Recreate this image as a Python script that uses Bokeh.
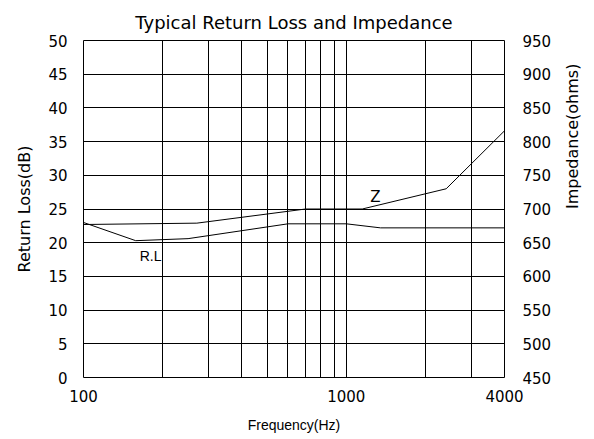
import math
from bokeh.plotting import figure
from bokeh.models import Range1d, LinearAxis, FixedTicker, Label
from bokeh.embed import file_html
from bokeh.resources import INLINE

# ---- data ----
z_freq = [100, 270, 700, 1150, 2400, 4000]
z_ohms = [677, 679, 700, 700, 730, 816]

rl_freq = [100, 158, 250, 600, 1000, 1350, 4000]
rl_db = [23.0, 20.3, 20.6, 22.8, 22.8, 22.2, 22.2]

x_grid = [100, 200, 300, 400, 500, 600, 700, 800, 900, 1000, 2000, 3000, 4000]
x_ticks = [100, 1000, 4000]
x_tick_labels = ["100", "1000", "4000"]
left_ticks = [0, 5, 10, 15, 20, 25, 30, 35, 40, 45, 50]
right_ticks = [450, 500, 550, 600, 650, 700, 750, 800, 850, 900, 950]

CAD = "DejaVu Sans"

p = figure(frame_width=421, frame_height=337, x_axis_type="log",
           x_range=Range1d(100, 4000), y_range=Range1d(0, 50),
           output_backend="svg", toolbar_location=None,
           min_border_left=83, min_border_right=0,
           min_border_top=40, min_border_bottom=58)

p.extra_y_ranges = {"z": Range1d(450, 950)}

p.title.text = "Typical Return Loss and Impedance"
p.title.align = "center"
p.title.standoff = 15
p.title.text_font = CAD
p.title.text_font_size = "18px"
p.title.text_font_style = "normal"
p.title.text_color = "black"

p.outline_line_color = "black"
p.outline_line_width = 1
p.outline_line_alpha = 1

# grids
p.xgrid.ticker = FixedTicker(ticks=x_grid)
p.ygrid.ticker = FixedTicker(ticks=left_ticks)
for g in (p.xgrid, p.ygrid):
    g.grid_line_color = "black"
    g.grid_line_width = 1
    g.grid_line_alpha = 1

# x axis
xa = p.xaxis[0]
xa.ticker = FixedTicker(ticks=x_ticks)
xa.major_label_overrides = {t: s for t, s in zip(x_ticks, x_tick_labels)}
xa.axis_label = "Frequency(Hz)"
xa.axis_label_text_font = "Liberation Sans"
xa.axis_label_text_font_size = "14px"
xa.axis_label_text_font_style = "normal"

# left axis
ya = p.yaxis[0]
ya.ticker = FixedTicker(ticks=left_ticks)
ya.axis_label = "Return Loss(dB)"

# right axis
ra = LinearAxis(y_range_name="z", ticker=FixedTicker(ticks=right_ticks),
                axis_label="Impedance(ohms)")
p.add_layout(ra, "right")

for ax in (xa, ya, ra):
    ax.axis_line_color = None
    ax.major_tick_line_color = None
    ax.minor_tick_line_color = None
    ax.major_tick_out = 0
    ax.major_tick_in = 0
    ax.minor_tick_out = 0
    ax.minor_tick_in = 0
    ax.major_label_text_font = CAD
    ax.major_label_text_font_size = "15px"
    ax.major_label_text_color = "black"
    ax.axis_label_text_color = "black"

xa.major_label_standoff = 12
xa.axis_label_standoff = 12
ya.major_label_standoff = 16
ra.major_label_standoff = 18
for ax in (ya, ra):
    ax.axis_label_text_font = CAD
    ax.axis_label_text_font_size = "16px"
    ax.axis_label_text_font_style = "normal"
ya.axis_label_standoff = 11
ra.axis_label_standoff = 18
ra.axis_label_orientation = math.pi / 2

# data lines
p.line(rl_freq, rl_db, line_color="black", line_width=1)
p.line(z_freq, z_ohms, line_color="black", line_width=1, y_range_name="z")

p.add_layout(Label(x=180, y=18.0, text="R.L", text_font="Liberation Sans",
                   text_font_size="14px", text_align="center",
                   text_baseline="middle", text_color="black"))
p.add_layout(Label(x=1290, y=718, y_range_name="z", text="Z", text_font=CAD,
                   text_font_size="15px", text_align="center",
                   text_baseline="middle", text_color="black"))

open("out.html", "w").write(file_html(p, INLINE))
